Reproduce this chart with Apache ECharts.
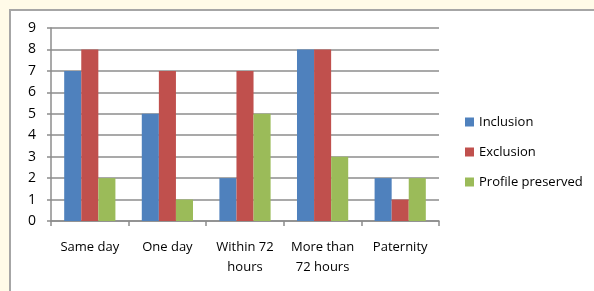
<!DOCTYPE html>
<html>
<head>
<meta charset="utf-8">
<script src="https://cdn.jsdelivr.net/npm/echarts@6/dist/echarts.min.js"></script>
<style>
  html, body { margin: 0; padding: 0; background: #fffbe8; }
  #main { width: 594px; height: 291px; }
</style>
</head>
<body>
<div id="main"></div>
<script>
// data
var categories = ['Same day', 'One day', 'Within 72\nhours', 'More than\n72 hours', 'Paternity'];
var inclusion = [7, 5, 2, 8, 2];
var exclusion = [8, 7, 7, 8, 1];
var profilePreserved = [2, 1, 5, 3, 2];

var chart = echarts.init(document.getElementById('main'));
chart.setOption({
  backgroundColor: '#fffbe8',
  animation: false,
  color: ['#4f81bd', '#c0504d', '#9bbb59'],
  graphic: [{
    type: 'rect',
    z: -1,
    shape: { x: 10, y: 10, width: 620, height: 320 },
    style: { fill: '#ffffff', stroke: '#a6a6a6', lineWidth: 2 }
  }],
  grid: { left: 51, top: 28, right: 155, bottom: 70 },
  legend: {
    orient: 'vertical',
    left: 460,
    top: 108,
    itemWidth: 9,
    itemHeight: 9,
    itemGap: 12,
    icon: 'rect',
    textStyle: { fontFamily: 'Open Sans', fontSize: 13, color: '#000', lineHeight: 18 },
    data: ['Inclusion', 'Exclusion', 'Profile preserved']
  },
  xAxis: {
    type: 'category',
    data: categories,
    axisLine: { lineStyle: { color: '#8c8c8c', width: 1.5 } },
    axisTick: { show: true, length: 5, lineStyle: { color: '#8c8c8c', width: 1.5 } },
    axisLabel: { fontFamily: 'Open Sans', fontSize: 13, color: '#000', margin: 16, lineHeight: 20, interval: 0 }
  },
  yAxis: {
    type: 'value',
    min: 0,
    max: 9,
    interval: 1,
    axisLine: { show: true, lineStyle: { color: '#8c8c8c', width: 1.5 } },
    axisTick: { show: true, length: 4, lineStyle: { color: '#8c8c8c', width: 1.5 } },
    axisLabel: { fontFamily: 'Open Sans', fontSize: 14, color: '#000', margin: 15 },
    splitLine: { lineStyle: { color: '#8c8c8c', width: 1.5 } }
  },
  series: [
    { name: 'Inclusion', type: 'bar', data: inclusion, barGap: '0%', barCategoryGap: '34%' },
    { name: 'Exclusion', type: 'bar', data: exclusion, barGap: '0%', barCategoryGap: '34%' },
    { name: 'Profile preserved', type: 'bar', data: profilePreserved, barGap: '0%', barCategoryGap: '34%' }
  ]
});
</script>
</body>
</html>
